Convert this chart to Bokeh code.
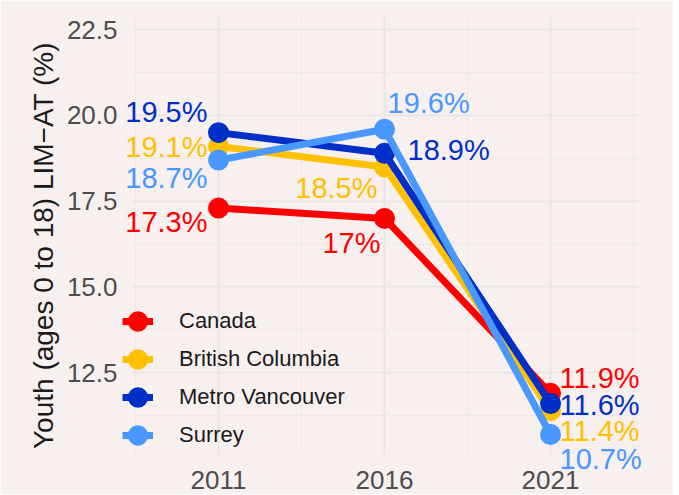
from bokeh.plotting import figure
from bokeh.models import (ColumnDataSource, FixedTicker, Legend, LegendItem, Range1d,
                          Label, BoxAnnotation)
from bokeh.embed import file_html
from bokeh.resources import INLINE

# ---- data ----
years = [2011, 2016, 2021]
series_names = ["Canada", "British Columbia", "Metro Vancouver", "Surrey"]
canada = [17.3, 17.0, 11.9]
british_columbia = [19.1, 18.5, 11.4]
metro_vancouver = [19.5, 18.9, 11.6]
surrey = [18.7, 19.6, 10.7]
y_ticks = [12.5, 15.0, 17.5, 20.0, 22.5]
y_tick_labels = ["12.5", "15.0", "17.5", "20.0", "22.5"]
x_tick_labels = ["2011", "2016", "2021"]

# ---- styles ----
colors = ["#FF0000", "#FFC000", "#0030C8", "#4898FF"]
# label offsets in screen pixels (dx right, dy up) and alignment per point
label_dx = [[-11, -4, 9], [-11, -7, 9], [-11, 23, 9], [-11, 3, 9]]
label_dy = [[-14, -25, 15], [-1, -21, -21], [21, 3, -1], [-18, 26, -25]]
label_align = [["right", "right", "left"], ["right", "right", "left"],
               ["right", "left", "left"], ["right", "left", "left"]]

BG = "#F8F0EF"
FONT = "Liberation Sans"
# visible panel limits (the frame is a bit larger so that labels are not clipped)
PANEL_X = (2008.41, 2023.68)
PANEL_Y_MIN = 10.117

p = figure(width=673, height=494, output_backend="svg", toolbar_location=None,
           x_range=Range1d(2008.078, 2023.89), y_range=Range1d(9.533, 22.886),
           min_border_left=121, min_border_right=27, min_border_top=16,
           min_border_bottom=20)
p.background_fill_color = BG
p.border_fill_color = BG
p.outline_line_color = None

p.xaxis.ticker = FixedTicker(ticks=years, minor_ticks=[2008.5, 2013.5, 2018.5, 2023.5])
p.yaxis.ticker = FixedTicker(ticks=y_ticks, minor_ticks=[11.25, 13.75, 16.25, 18.75, 21.25])
p.xaxis.major_label_overrides = {y: l for y, l in zip(years, x_tick_labels)}
p.yaxis.major_label_overrides = {t: l for t, l in zip(y_ticks, y_tick_labels)}

for ax in (p.xaxis, p.yaxis):
    ax.axis_line_color = None
    ax.major_tick_line_color = None
    ax.minor_tick_line_color = None
    ax.major_tick_out = 0
    ax.major_tick_in = 0
    ax.major_label_text_font = FONT
    ax.major_label_text_font_size = "26px"
    ax.major_label_text_color = "#4D4D4D"
p.xaxis.major_label_standoff = -8
p.yaxis.major_label_standoff = 0
p.yaxis.axis_label = "Youth (ages 0 to 18) LIM\u2212AT (%)"
p.yaxis.axis_label_text_font = FONT
p.yaxis.axis_label_text_font_size = "28px"
p.yaxis.axis_label_text_font_style = "normal"
p.yaxis.axis_label_text_color = "#1A1A1A"
p.yaxis.axis_label_standoff = 5

for g in (p.xgrid, p.ygrid):
    g.grid_line_color = "#EAE5E5"
    g.grid_line_width = 2
    g.minor_grid_line_color = "#EEE9E9"
    g.minor_grid_line_width = 1

# mask the grid outside the visible panel
for kw in (dict(right=PANEL_X[0]), dict(left=PANEL_X[1]), dict(top=PANEL_Y_MIN)):
    p.add_layout(BoxAnnotation(fill_color=BG, fill_alpha=1, line_color=None,
                               level="glyph", **kw))

all_values = [canada, british_columbia, metro_vancouver, surrey]
items = []
for i, (name, vals) in enumerate(zip(series_names, all_values)):
    src = ColumnDataSource(dict(x=years, y=vals))
    lr = p.line("x", "y", source=src, line_color=colors[i], line_width=7)
    sr = p.scatter("x", "y", source=src, size=13, fill_color=colors[i],
                   line_color=colors[i], line_width=8)
    items.append(LegendItem(label=name, renderers=[lr, sr]))

for i, vals in enumerate(all_values):
    for j, (yr, v) in enumerate(zip(years, vals)):
        p.add_layout(Label(x=yr, y=v, text=f"{v:g}%",
                           x_offset=label_dx[i][j], y_offset=label_dy[i][j],
                           text_align=label_align[i][j], text_baseline="middle",
                           text_font=FONT, text_font_size="29px",
                           text_color=colors[i]))

legend = Legend(items=items, location=(1, 20), glyph_width=31, glyph_height=38,
                spacing=0, padding=0, margin=0, label_standoff=26,
                label_text_font=FONT, label_text_font_size="22px",
                label_text_color="#1A1A1A", background_fill_alpha=0,
                border_line_color=None)
p.add_layout(legend, "center")

open("out.html", "w").write(file_html(p, INLINE))
